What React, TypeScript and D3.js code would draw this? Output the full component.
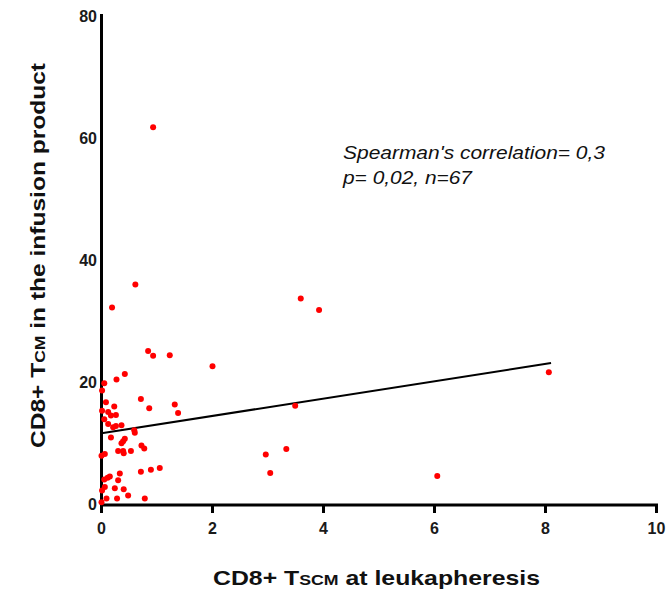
import React from "react";
import * as d3 from "d3";

const tscm: number[] = [
  0.93, 0.61, 0.19, 3.59, 3.92, 0.84, 0.93, 1.23, 2.0,
  8.06, 3.49, 2.96, 3.33, 3.04, 6.05,
  0.42, 0.27, 0.05, 0.01, 0.71, 0.08, 0.23, 0.86, 1.32, 1.38, 0.01, 0.12, 0.26, 0.17, 0.05,
  0.12, 0.26, 0.36, 0.21, 0.59, 0.6, 0.17, 0.42, 0.39, 0.36, 0.72, 0.77, 0.3, 0.39, 0.53, 0.4,
  0.06, 0.0, 0.71, 0.89, 1.05, 0.33, 0.15, 0.11, 0.05, 0.3, 0.06, 0.01, 0.24, 0.4, 0.48, 0.09,
  0.28, 0.78, 0.0,
];
const tcm: number[] = [
  61.75, 36.0, 32.2, 33.7, 31.8, 25.1, 24.3, 24.4, 22.6,
  21.6, 16.1, 8.1, 9.0, 5.1, 4.6,
  21.3, 20.4, 19.8, 18.6, 17.2, 16.7, 16.0, 15.7, 16.3, 14.9, 15.3, 15.1, 14.6, 14.5, 13.9,
  13.1, 12.8, 12.9, 12.6, 12.1, 11.7, 10.9, 10.7, 10.3, 9.95, 9.6, 9.1, 8.7, 8.7, 8.7, 8.3,
  8.2, 7.9, 5.3, 5.6, 5.9, 5.0, 4.5, 4.3, 4.0, 3.9, 2.8, 2.2, 2.6, 2.4, 1.4, 0.9,
  0.9, 0.9, 0.3,
];
const fitX: number[] = [0, 8.1];
const fitY: number[] = [11.6, 23.1];
const xTicks: number[] = [0, 2, 4, 6, 8, 10];
const yTicks: number[] = [0, 20, 40, 60, 80];
const statLines: string[] = ["Spearman's correlation= 0,3", "p= 0,02, n=67"];
const statWidths: number[] = [262, 129];

export default function App() {
  const x = d3.scaleLinear().domain([0, 10]).range([101.5, 656.5]);
  const y = d3.scaleLinear().domain([0, 80]).range([504, 16]);
  const line = d3
    .line<number>()
    .x((_, i) => x(fitX[i]))
    .y((d) => y(d));
  const font = "Arial, 'Liberation Sans', Helvetica, sans-serif";
  return (
    <svg
      width={667}
      height={591}
      style={{ position: "absolute", left: 0, top: 0, background: "#fff" }}
      fontFamily={font}
    >
      {/* axes */}
      <line x1={x(0)} x2={x(0)} y1={y(80) - 2} y2={y(0) + 2.5} stroke="#000" strokeWidth={3} />
      <line x1={x(0) - 1.5} x2={x(10) + 1.5} y1={y(0) + 1} y2={y(0) + 1} stroke="#000" strokeWidth={3} />
      {xTicks.map((t) => (
        <g key={"xt" + t}>
          <line x1={x(t)} x2={x(t)} y1={y(0)} y2={y(0) + 9} stroke="#000" strokeWidth={3} />
          <text x={x(t)} y={533.5} textAnchor="middle" fontSize={16} fontWeight="bold" fill="#1a1a1a">
            {t}
          </text>
        </g>
      ))}
      {yTicks.map((t) => (
        <text key={"yt" + t} x={97} y={y(t) + 6} textAnchor="end" fontSize={16} fontWeight="bold" fill="#1a1a1a">
          {t}
        </text>
      ))}
      {/* fit line */}
      <path d={line(fitY) || ""} fill="none" stroke="#000" strokeWidth={2} />
      {/* points */}
      {tscm.map((v, i) => (
        <circle key={i} cx={x(v)} cy={y(tcm[i])} r={3} fill="#ff0000" />
      ))}
      {/* annotation */}
      {statLines.map((s, i) => (
        <text
          key={"s" + i}
          x={343}
          y={159 + i * 25}
          fontSize={18.5}
          fontStyle="italic"
          fill="#111"
          textLength={statWidths[i]}
          lengthAdjust="spacingAndGlyphs"
        >
          {s}
        </text>
      ))}
      {/* axis titles */}
      <text
        x={213}
        y={585}
        fontSize={21}
        fontWeight="bold"
        fill="#111"
        textLength={327}
        lengthAdjust="spacingAndGlyphs"
      >
        CD8+ T<tspan fontSize={15}>SCM</tspan> at leukapheresis
      </text>
      <text
        transform={`translate(45,448) rotate(-90)`}
        fontSize={21}
        fontWeight="bold"
        fill="#111"
        textLength={385}
        lengthAdjust="spacingAndGlyphs"
      >
        CD8+ T<tspan fontSize={15}>CM</tspan> in the infusion product
      </text>
    </svg>
  );
}
